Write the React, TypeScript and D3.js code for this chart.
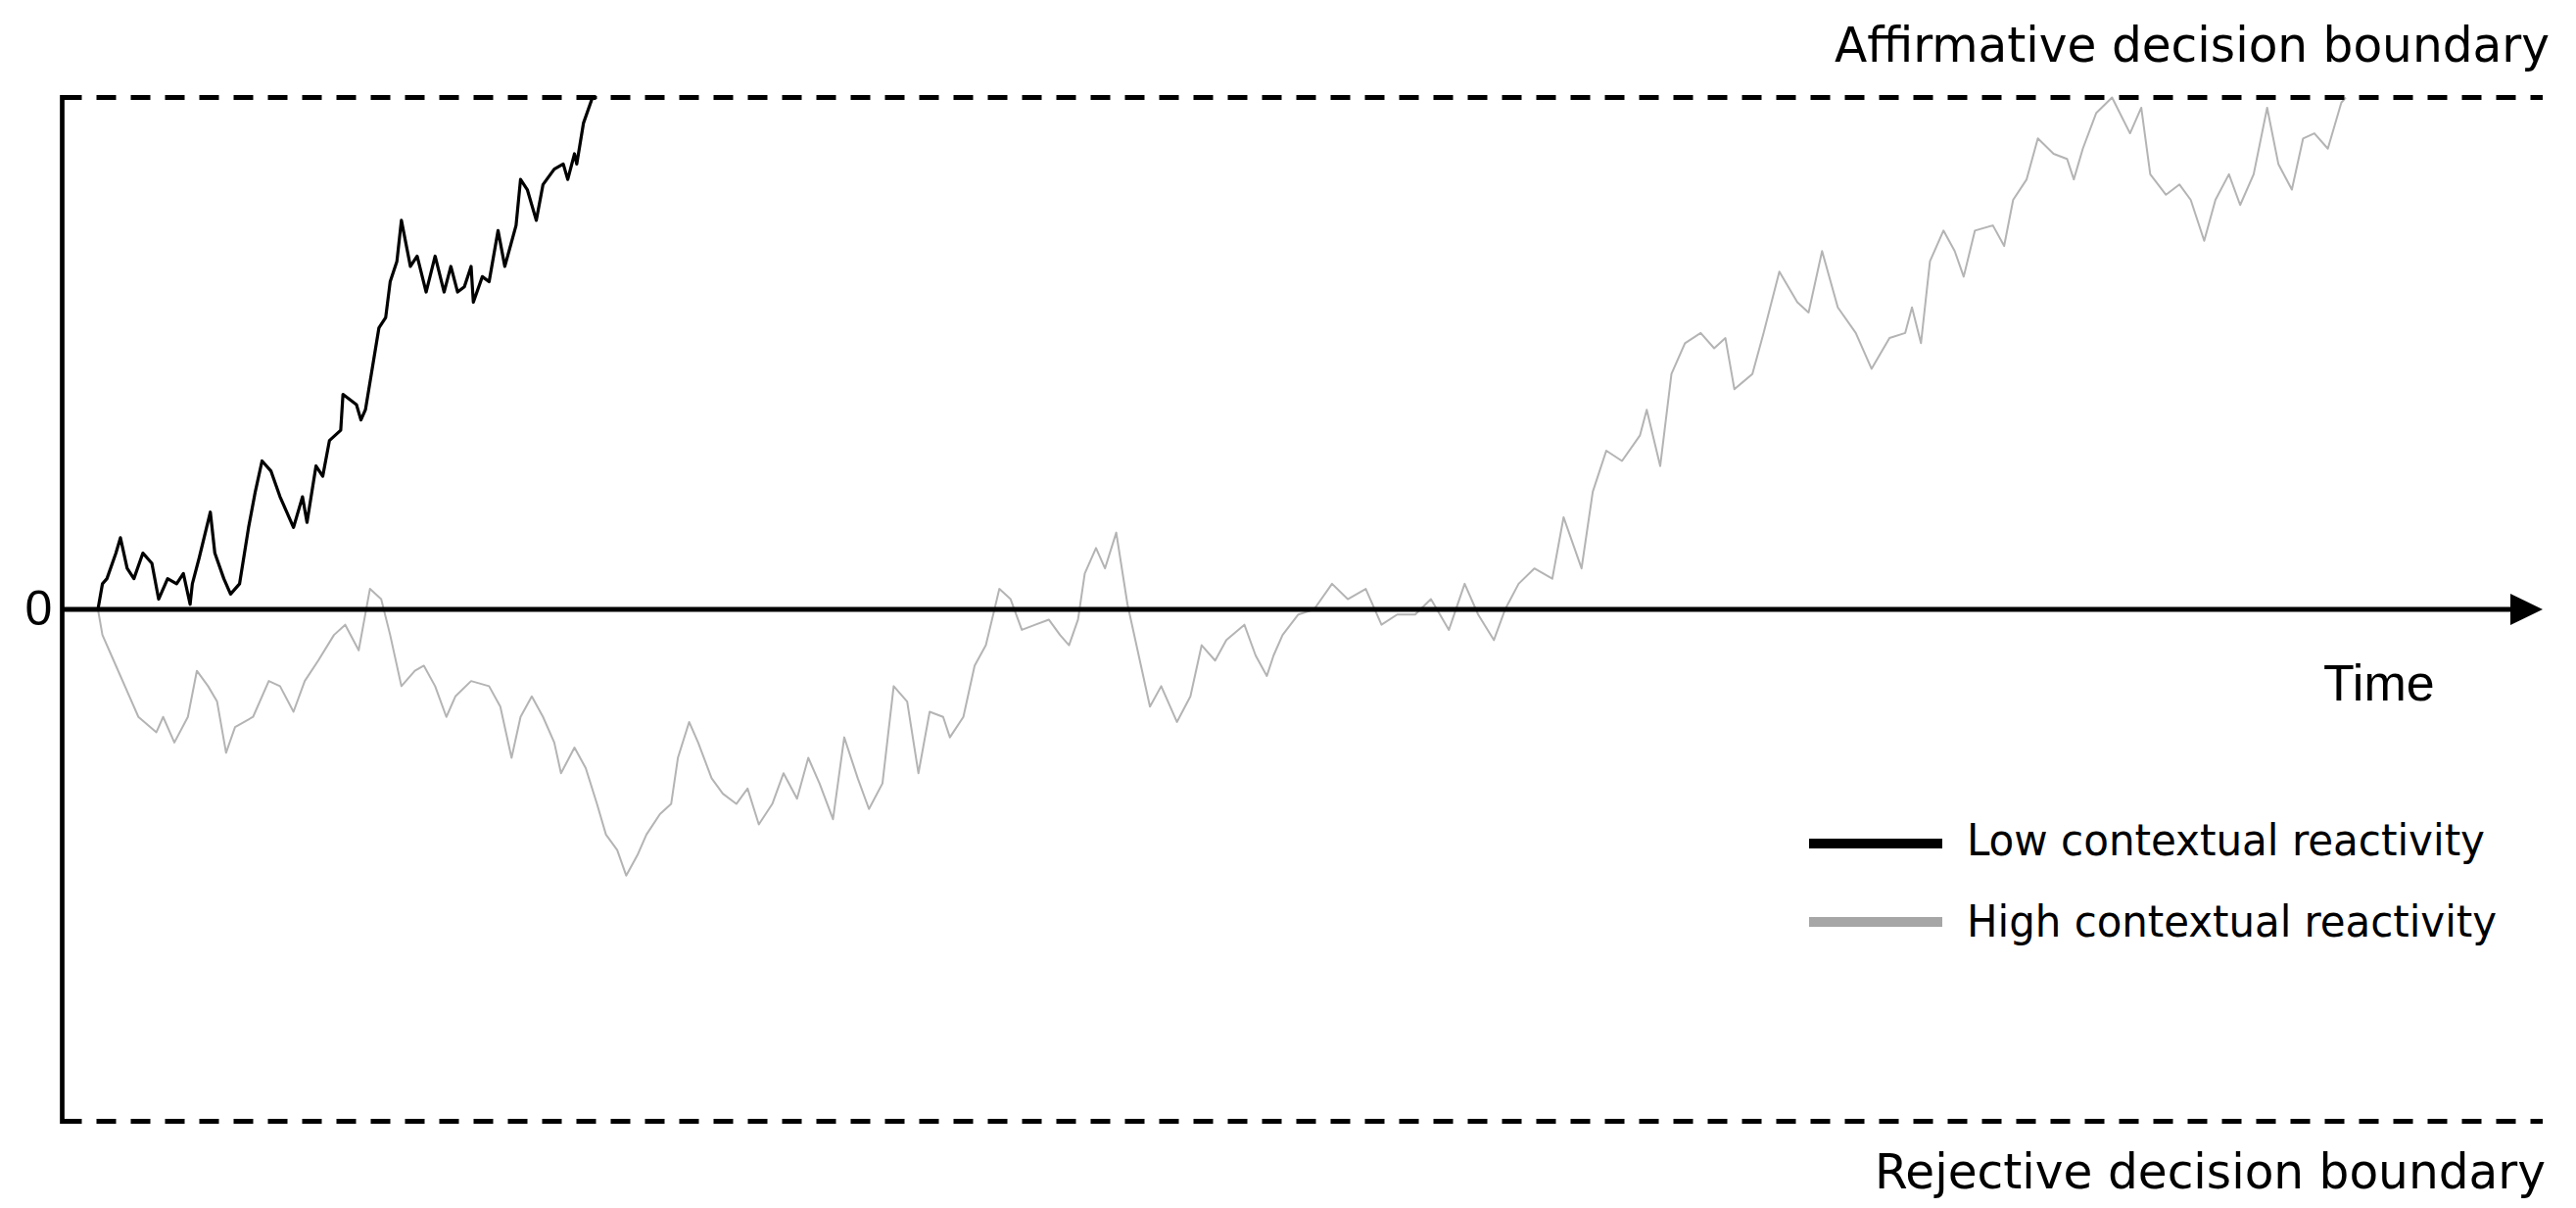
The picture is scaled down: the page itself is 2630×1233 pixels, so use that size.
import React from 'react';
import * as d3 from 'd3';

// ---- Data (time in arbitrary units 0..1000, evidence in % of boundary) ----
const lowTime = [0, 2, 4, 8, 10, 13, 16, 20, 24, 27, 31, 35, 38, 41, 42, 45, 50, 52, 56, 59, 63, 67, 70, 73, 77, 81, 87, 91, 93, 97, 100, 103, 108, 109, 115, 117, 119, 122, 125, 128, 130, 133, 135, 139, 142, 146, 150, 154, 157, 160, 163, 166, 167, 171, 174, 178, 181, 186, 188, 191, 195, 198, 203, 207, 209, 212, 213, 216, 220, 222];
const lowValue = [0, 5, 6, 11, 14, 8, 6, 11, 9, 2, 6, 5, 7, 1, 5, 10, 19, 11, 6, 3, 5, 16, 23, 29, 27, 22, 16, 22, 17, 28, 26, 33, 35, 42, 40, 37, 39, 47, 55, 57, 64, 68, 76, 67, 69, 62, 69, 62, 67, 62, 63, 67, 60, 65, 64, 74, 67, 75, 84, 82, 76, 83, 86, 87, 84, 89, 87, 95, 100, 100];

const highTime = [0, 2, 7, 13, 18, 26, 29, 34, 40, 44, 49, 53, 57, 61, 69, 76, 81, 87, 92, 98, 105, 110, 116, 121, 126, 130, 135, 141, 145, 150, 155, 159, 166, 174, 179, 184, 188, 193, 198, 203, 206, 212, 217, 222, 226, 231, 235, 240, 244, 250, 255, 258, 263, 267, 273, 278, 284, 289, 294, 300, 305, 311, 316, 321, 327, 332, 338, 343, 349, 354, 360, 365, 370, 376, 379, 385, 390, 395, 401, 406, 411, 417, 423, 428, 432, 436, 439, 444, 448, 453, 458, 463, 468, 473, 480, 486, 491, 497, 502, 510, 515, 520, 523, 527, 534, 541, 549, 556, 564, 571, 578, 586, 593, 601, 608, 614, 621, 626, 632, 639, 647, 652, 660, 665, 671, 678, 686, 689, 695, 700, 706, 713, 719, 724, 728, 736, 741, 748, 756, 761, 767, 774, 782, 789, 797, 804, 807, 811, 815, 821, 826, 830, 835, 843, 848, 852, 858, 863, 870, 876, 879, 883, 889, 896, 904, 909, 913, 920, 926, 931, 937, 942, 948, 953, 959, 965, 970, 976, 981, 986, 992, 998, 1000];
const highValue = [0, -5, -10, -16, -21, -24, -21, -26, -21, -12, -15, -18, -28, -23, -21, -14, -15, -20, -14, -10, -5, -3, -8, 4, 2, -5, -15, -12, -11, -15, -21, -17, -14, -15, -19, -29, -21, -17, -21, -26, -32, -27, -31, -38, -44, -47, -52, -48, -44, -40, -38, -29, -22, -26, -33, -36, -38, -35, -42, -38, -32, -37, -29, -34, -41, -25, -33, -39, -34, -15, -18, -32, -20, -21, -25, -21, -11, -7, 4, 2, -4, -3, -2, -5, -7, -2, 7, 12, 8, 15, 1, -9, -19, -15, -22, -17, -7, -10, -6, -3, -9, -13, -9, -5, -1, 0, 5, 2, 4, -3, -1, -1, 2, -4, 5, -1, -6, 0, 5, 8, 6, 18, 8, 23, 31, 29, 34, 39, 28, 46, 52, 54, 51, 53, 43, 46, 54, 66, 60, 58, 70, 59, 54, 47, 53, 54, 59, 52, 68, 74, 70, 65, 74, 75, 71, 80, 84, 92, 89, 88, 84, 90, 97, 100, 93, 98, 85, 81, 83, 80, 72, 80, 85, 79, 85, 98, 87, 82, 92, 93, 90, 99, 100];

const seriesNames = ['Low contextual reactivity', 'High contextual reactivity'];
const seriesColors = ['#000000', '#a6a6a6'];
const boundaryLabels = ['Affirmative decision boundary', 'Rejective decision boundary'];
const zeroLabel = '0';
const timeLabel = 'Time';

export default function App() {
  const W = 2630, H = 1233;
  const axisX = 63.5;
  const arrowTip = 2596;
  const x = d3.scaleLinear().domain([0, 1000]).range([100, 2395]);
  const y = d3.scaleLinear().domain([-100, 100]).range([1144.5, 99.5]);

  const line = d3.line<[number, number]>().x(d => x(d[0])).y(d => y(d[1])).curve(d3.curveLinear);
  const low: [number, number][] = lowTime.map((t, i) => [t, lowValue[i]]);
  const high: [number, number][] = highTime.map((t, i) => [t, highValue[i]]);

  const narrow = '"Liberation Sans Narrow", "DejaVu Sans Condensed", "Liberation Sans", sans-serif';
  const sans = '"Liberation Sans", Arial, sans-serif';

  return (
    <svg width={W} height={H} style={{ position: 'absolute', left: 0, top: 0, background: '#fff' }}>
      <rect x={0} y={0} width={W} height={H} fill="#fff" />
      {/* paths */}
      <path d={line(high) || ''} fill="none" stroke="#b4b4b4" strokeWidth={2} strokeLinejoin="round" />
      <path d={line(low) || ''} fill="none" stroke={seriesColors[0]} strokeWidth={3.2} strokeLinejoin="round" />

      {/* boundaries */}
      <line x1={axisX} x2={arrowTip} y1={y(100)} y2={y(100)} stroke="#000" strokeWidth={5} strokeDasharray="20 15" />
      <line x1={axisX} x2={arrowTip} y1={y(-100)} y2={y(-100)} stroke="#000" strokeWidth={5} strokeDasharray="20 15" />

      {/* vertical axis */}
      <line x1={axisX} x2={axisX} y1={y(100) - 2.5} y2={y(-100) + 2.5} stroke="#000" strokeWidth={4.7} />
      {/* time axis */}
      <line x1={axisX} x2={arrowTip - 30} y1={y(0)} y2={y(0)} stroke="#000" strokeWidth={5} />
      <polygon points={`${arrowTip - 33},${y(0) - 16} ${arrowTip},${y(0)} ${arrowTip - 33},${y(0) + 16}`} fill="#000" />

      {/* labels */}
      <text x={39.5} y={638} fontFamily={sans} fontSize={50} textAnchor="middle" fill="#000">{zeroLabel}</text>
      <text x={2372} y={715} fontFamily={sans} fontSize={52} fill="#000">{timeLabel}</text>
      <text x={1873} y={63} fontFamily={narrow} fontSize={50} textLength={730} lengthAdjust="spacingAndGlyphs" fill="#000">{boundaryLabels[0]}</text>
      <text x={1914} y={1213} fontFamily={narrow} fontSize={49} textLength={685} lengthAdjust="spacingAndGlyphs" fill="#000">{boundaryLabels[1]}</text>

      {/* legend */}
      {seriesNames.map((name, i) => (
        <g key={name}>
          <line x1={1847} x2={1983} y1={861 + i * 80} y2={861 + i * 80} stroke={seriesColors[i]} strokeWidth={10} />
          <text x={2008} y={873 + i * 83} fontFamily={narrow} fontSize={44} textLength={i === 0 ? 529 : 541} lengthAdjust="spacingAndGlyphs" fill="#000">{name}</text>
        </g>
      ))}
    </svg>
  );
}
